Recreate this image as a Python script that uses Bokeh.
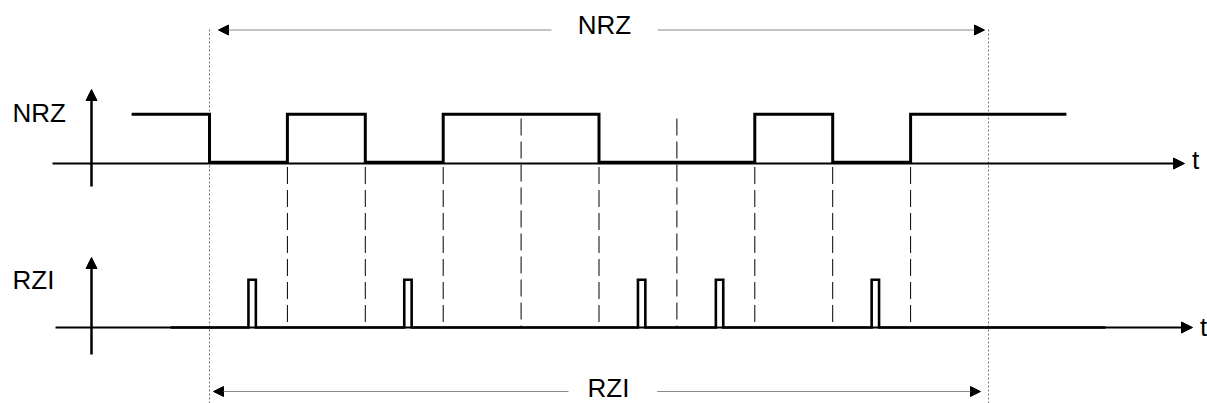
from bokeh.plotting import figure
from bokeh.models import Range1d, Arrow, NormalHead, ColumnDataSource
from bokeh.embed import file_html
from bokeh.resources import INLINE
from bokeh.core.properties import value

# ---------------- data ----------------
bits = [0, 1, 0, 1, 1, 0, 0, 1, 0, 1]   # bits inside the marked window (t = 0 .. 10)
lead_bit = 1                               # bit before the window (t = -1 .. 0)
trail_bit = 1                              # bit after the window (t = 10 .. 11)
rzi_lead = 0.5                             # RZI trace starts half a bit before the window
rzi_trail = 1.5                            # and ends 1.5 bits after it
pulse_width = 0.095                        # RZI pulse width in bit periods
signal_labels = ["NRZ", "RZI"]
span_labels = ["NRZ", "RZI"]
time_label = "t"

# ---------------- layout helpers (page px -> data) ----------------
W, H = 1207, 403
PX_PER_BIT = 77.9
T0_PX = 209.0
TXT_DY = 10.0   # empirical baseline correction for svg text


def tx(px):
    return (px - T0_PX) / PX_PER_BIT


def ty(py):
    return 403.0 - py


NRZ_BASE, NRZ_LOW, NRZ_HIGH = ty(163), ty(161.8), ty(113.7)
RZI_BASE, RZI_HIGH = ty(327), ty(279.3)
FONT = value("Liberation Sans")
FSIZE = value("26px")

p = figure(width=W, height=H, output_backend="svg", toolbar_location=None,
           x_range=Range1d(tx(0), tx(1207)), y_range=Range1d(ty(403), ty(0)),
           min_border=0, tools="")
p.axis.visible = False
p.grid.visible = False
p.outline_line_color = None
p.background_fill_color = "white"
p.border_fill_color = "white"

n = len(bits)

# dotted window markers
for t in (0, n):
    p.segment(x0=[t], y0=[ty(29)], x1=[t], y1=[ty(410)],
              line_color="#6e6e6e", line_width=1, line_dash="2 2")

# dashed bit boundaries
dx, dy0, dy1 = [], [], []
for k in range(1, n):
    trans = bits[k] != bits[k - 1]
    dx.append(k)
    dy0.append(ty(166.5) if trans else ty(118))
    dy1.append(RZI_BASE)
p.segment(x0=dx, y0=dy0, x1=dx, y1=dy1, line_color="black", line_width=1,
          line_dash="17 6")

# axes (baselines with arrow heads)
def axis_arrow(x0, y0, x1, y1, lw, size):
    p.add_layout(Arrow(end=NormalHead(size=size, fill_color="black", line_color="black",
                                      line_width=1),
                       x_start=x0, y_start=y0, x_end=x1, y_end=y1,
                       line_color="black", line_width=lw))


axis_arrow(tx(52), NRZ_BASE, tx(1184), NRZ_BASE, 2, 11)
axis_arrow(tx(55), RZI_BASE, tx(1192), RZI_BASE, 2, 11)
axis_arrow(tx(91), ty(186), tx(91), ty(89), 2.5, 11)
axis_arrow(tx(91), ty(354), tx(91), ty(257), 2.5, 11)

# NRZ signal
seq = [lead_bit] + bits + [trail_bit]
nx, ny = [], []
for i, b in enumerate(seq):
    t0 = i - 1
    lvl = NRZ_HIGH if b else NRZ_LOW
    nx += [t0, t0 + 1]
    ny += [lvl, lvl]
p.line(nx, ny, line_color="black", line_width=3, line_join="miter")

# RZI signal (pulse in the middle of every 0 bit)
rx, ry = [-rzi_lead], [RZI_BASE]
for k, b in enumerate(bits):
    if b == 0:
        s = k + 0.5
        rx += [s, s, s + pulse_width, s + pulse_width]
        ry += [RZI_BASE, RZI_HIGH, RZI_HIGH, RZI_BASE]
rx.append(n + rzi_trail)
ry.append(RZI_BASE)
p.line(rx, ry, line_color="black", line_width=2.6, line_join="miter")

# span arrows with labels
def span(y, left_tip, gap_l, gap_r, right_tip):
    head = dict(size=10, fill_color="black", line_color="black", line_width=1)
    p.add_layout(Arrow(start=NormalHead(**head), end=None,
                       x_start=left_tip, y_start=y, x_end=gap_l, y_end=y,
                       line_color="#8a8a8a", line_width=1))
    p.add_layout(Arrow(end=NormalHead(**head),
                       x_start=gap_r, y_start=y, x_end=right_tip, y_end=y,
                       line_color="#8a8a8a", line_width=1))


span(ty(29.5), tx(218), tx(551), tx(657), tx(984))
span(ty(391), tx(213), tx(568), tx(656.7), tx(980))

# texts
base_y = [122, 289.3, 34.3, 397, 169.5, 336.8]
src = ColumnDataSource(dict(
    x=[tx(12), tx(12), tx(604), tx(608), tx(1191.5), tx(1199.5)],
    y=[ty(v - TXT_DY) for v in base_y],
    t=[signal_labels[0], signal_labels[1], span_labels[0], span_labels[1],
       time_label, time_label],
    a=["left", "left", "center", "center", "left", "left"],
))
p.text(x="x", y="y", text="t", text_align="a", text_baseline="alphabetic",
       text_font=FONT, text_font_size=FSIZE, text_color="black", source=src)

open("out.html", "w").write(file_html(p, INLINE))
